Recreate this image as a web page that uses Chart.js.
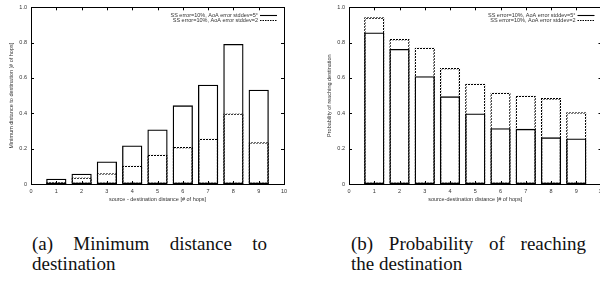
<!DOCTYPE html>
<html>
<head>
<meta charset="utf-8">
<script src="https://cdn.jsdelivr.net/npm/chart.js@4.4.1/dist/chart.umd.min.js"></script>
<style>
  body { margin: 0; width: 600px; height: 282px; overflow: hidden; background: #fff; position: relative; }
  .plot { position: absolute; top: 0; height: 210px; }
  #boxA { left: 0; width: 300px; }
  #boxB { left: 300px; width: 320px; }
  .cap { position: absolute; font-family: "Liberation Serif", "Times New Roman", serif; font-size: 19px; line-height: 20px; color: #111; white-space: nowrap; }
  .full { text-align: justify; text-align-last: justify; }
</style>
</head>
<body>
<div class="plot" id="boxA"><canvas id="chartA" width="300" height="210"></canvas></div>
<div class="plot" id="boxB"><canvas id="chartB" width="320" height="210"></canvas></div>

<div class="cap full" style="left:32px; top:234px; width:235px;">(a) Minimum distance to</div>
<div class="cap" style="left:32px; top:254px;">destination</div>
<div class="cap full" style="left:351px; top:234px; width:235px;">(b) Probability of reaching</div>
<div class="cap" style="left:351px; top:254px;">the destination</div>

<script>
// source-destination distance, # of hops
const hops = [1, 2, 3, 4, 5, 6, 7, 8, 9];
const seriesLabels = ['SS error=10%, AoA error stddev=5°', 'SS error=10%, AoA error stddev=2'];

// (a) minimum distance to destination
const minDist5 = [0.03, 0.058, 0.128, 0.218, 0.309, 0.445, 0.562, 0.792, 0.534];
const minDist2 = [0.01, 0.037, 0.061, 0.103, 0.166, 0.209, 0.256, 0.399, 0.236];

// (b) probability of reaching destination
const reach5 = [0.857, 0.764, 0.61, 0.496, 0.399, 0.316, 0.312, 0.264, 0.258];
const reach2 = [0.943, 0.821, 0.771, 0.657, 0.567, 0.516, 0.5, 0.486, 0.406];

const xTicks = [0, 1, 2, 3, 4, 5, 6, 7, 8, 9, 10];
const yTicks = [0, 0.2, 0.4, 0.6, 0.8, 1];

const smallFont = { family: '"Liberation Sans", Arial, sans-serif', size: 5.5 };
const textColor = '#333';

// dotted border for the stddev=2 bars (bar borders are filled, not stroked)
function dotPattern() {
    const c = document.createElement('canvas');
    c.width = 3; c.height = 3;
    const g = c.getContext('2d');
    g.fillStyle = '#000';
    for (let i = 0; i < 3; i++) {
        for (let j = 0; j < 3; j++) {
            if ((i + j) % 3 !== 2) g.fillRect(i, j, 1, 1);
        }
    }
    return g.createPattern(c, 'repeat');
}

const framePlugin = {
    id: 'frame',
    afterDraw(chart) {
        const { ctx, chartArea: a, scales: { x, y } } = chart;
        ctx.save();
        ctx.strokeStyle = '#000';
        ctx.lineWidth = 1;
        ctx.strokeRect(Math.round(a.left) + 0.5, Math.round(a.top) + 0.5, Math.round(a.right - a.left), Math.round(a.bottom - a.top));

        // gnuplot style inward ticks on all four sides
        ctx.beginPath();
        xTicks.forEach(v => {
            const px = Math.round(x.getPixelForValue(v)) + 0.5;
            ctx.moveTo(px, a.bottom); ctx.lineTo(px, a.bottom - 3);
            ctx.moveTo(px, a.top); ctx.lineTo(px, a.top + 3);
        });
        yTicks.forEach(v => {
            const py = Math.round(y.getPixelForValue(v)) + 0.5;
            ctx.moveTo(a.left, py); ctx.lineTo(a.left + 3, py);
            ctx.moveTo(a.right, py); ctx.lineTo(a.right - 3, py);
        });
        ctx.stroke();

        // key, top right inside the plot
        ctx.font = '5.5px "Liberation Sans", Arial, sans-serif';
        ctx.fillStyle = textColor;
        ctx.textAlign = 'right';
        ctx.textBaseline = 'middle';
        seriesLabels.forEach((label, i) => {
            const ty = a.top + 8 + i * 5;
            ctx.fillText(label, a.right - 26, ty);
            ctx.beginPath();
            ctx.lineWidth = 1.1;
            ctx.strokeStyle = '#000';
            ctx.setLineDash(i === 0 ? [] : [1.5, 1]);
            ctx.moveTo(a.right - 24, Math.round(ty) + 0.5);
            ctx.lineTo(a.right - 7, Math.round(ty) + 0.5);
            ctx.stroke();
        });
        ctx.restore();
    }
};

function makeChart(id, solidVals, dottedVals, xTitle, yTitle, yWidth, yTitlePad, rightPad) {
    return new Chart(document.getElementById(id), {
        type: 'bar',
        data: {
            datasets: [{
                label: seriesLabels[0],
                data: hops.map((h, i) => ({ x: h, y: solidVals[i] })),
                backgroundColor: 'rgba(0,0,0,0)',
                borderColor: '#000',
                borderWidth: 1.3,
                borderSkipped: false
            }, {
                label: seriesLabels[1],
                data: hops.map((h, i) => ({ x: h, y: dottedVals[i] })),
                backgroundColor: 'rgba(0,0,0,0)',
                borderColor: dotPattern(),
                borderWidth: 1.3,
                borderSkipped: false
            }]
        },
        options: {
            responsive: false,
            animation: false,
            devicePixelRatio: 1,
            grouped: false,
            categoryPercentage: 1,
            barPercentage: 0.8,
            layout: { padding: { top: 6, right: rightPad, bottom: 0, left: 0 } },
            plugins: { legend: { display: false }, tooltip: { enabled: false } },
            scales: {
                x: {
                    type: 'linear',
                    min: 0,
                    max: 10,
                    offset: false,
                    afterFit: s => { s.height = 26; },
                    grid: { display: false, drawTicks: false, offset: false },
                    border: { display: false },
                    ticks: { stepSize: 1, font: smallFont, color: textColor, padding: 4, maxRotation: 0, autoSkip: false },
                    title: { display: true, text: xTitle, font: smallFont, color: textColor, padding: { top: 0, bottom: 7.5 } }
                },
                y: {
                    min: 0,
                    max: 1,
                    afterFit: s => { s.width = yWidth; },
                    grid: { display: false, drawTicks: false },
                    border: { display: false },
                    ticks: { stepSize: 0.2, font: smallFont, color: textColor, padding: 4 },
                    title: { display: true, text: yTitle, font: smallFont, color: textColor, padding: { top: yTitlePad, bottom: 0 } }
                }
            }
        },
        plugins: [framePlugin]
    });
}

makeChart('chartA', minDist5, minDist2, 'source - destination distance [# of hops]',
    'Minimum distance to destination [# of hops]', 31, 8, 16);
makeChart('chartB', reach5, reach2, 'source-destination distance [# of hops]',
    'Probability of reaching destination', 49, 26.5, 18.5);
</script>
</body>
</html>
